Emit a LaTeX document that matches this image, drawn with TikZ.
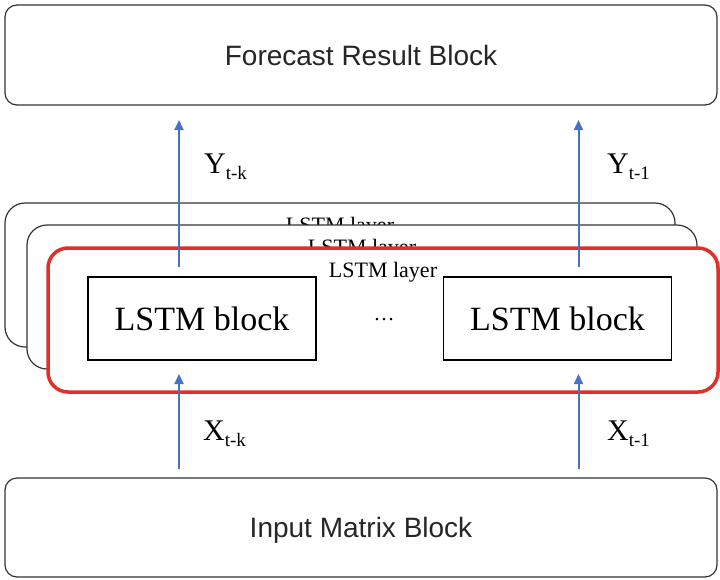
\documentclass[tikz,border=0pt]{standalone}
\usepackage{fontspec}
\setmainfont{Liberation Serif}
\setsansfont{Liberation Sans}
\usetikzlibrary{arrows.meta}
\definecolor{arrowblue}{HTML}{4472C4}
\definecolor{layerred}{HTML}{E0302A}
\definecolor{edgegray}{HTML}{333333}
\begin{document}
\begin{tikzpicture}[x=1pt,y=-1pt,
  outerbox/.style={draw=edgegray, line width=1.2pt, rounded corners=12pt, fill=white,
    inner sep=0pt, outer sep=0pt, text height=20pt, text depth=0pt,
    font=\sffamily\fontsize{28}{28}\selectfont, text=black!85},
  layerbox/.style={draw=edgegray, line width=1.2pt, rounded corners=20pt, fill=white,
    inner sep=0pt, outer sep=0pt, minimum width=670pt, minimum height=144pt},
  frontlayer/.style={layerbox, draw=layerred, line width=3.5pt},
  layerlabel/.style={anchor=base, inner sep=0pt, font=\fontsize{22}{22}\selectfont},
  lstmbox/.style={draw=black, line width=1.2pt, fill=white, minimum width=228pt,
    minimum height=83pt, inner sep=0pt, font=\fontsize{34}{34}\selectfont},
  flow/.style={draw=arrowblue, line width=2pt, -{Triangle[length=10pt,width=9pt]}},
  varlabel/.style={anchor=base west, inner sep=0pt, font=\fontsize{30}{30}\selectfont},
]
\useasboundingbox (0,0) rectangle (720,579);

% outer blocks
\node[outerbox, minimum width=712pt, minimum height=100pt] (forecast) at (361,55) {Forecast Result Block};
\node[outerbox, minimum width=712pt, minimum height=99pt] (input) at (361,527.5) {Input Matrix Block};

% stacked LSTM layers
\node[layerbox] (layerA) at (340,275) {};
\node[layerlabel] (labelA) at ([shift={(335,29)}]layerA.north west) {LSTM layer};
\node[layerbox] (layerB) at (362,297) {};
\node[layerlabel] (labelB) at ([shift={(335,29)}]layerB.north west) {LSTM layer};
\node[frontlayer] (layerC) at (383,320) {};
\node[layerlabel] (labelC) at ([shift={(335,29)}]layerC.north west) {LSTM layer};

% LSTM blocks
\node[lstmbox] (blockL) at (202,318.5) {LSTM block};
\node[lstmbox] (blockR) at (557.5,318.5) {LSTM block};
\node[inner sep=0pt, text height=3pt, text depth=0pt] (dots) at (384,319) {\fontsize{21}{21}\selectfont …};

% arrow ends
\coordinate (ykS) at (179,267);
\coordinate (ykE) at (179,120);
\coordinate (y1S) at (578.5,267);
\coordinate (y1E) at (578.5,120);
\coordinate (xkS) at (179,469);
\coordinate (xkE) at (179,374);
\coordinate (x1S) at (578.5,469);
\coordinate (x1E) at (578.5,374);

\draw[flow] (ykS) -- (ykE);
\draw[flow] (y1S) -- (y1E);
\draw[flow] (xkS) -- (xkE);
\draw[flow] (x1S) -- (x1E);

% labels
\node[varlabel] (ylabk) at (204,173) {Y\raisebox{-6.5pt}{\fontsize{19}{19}\selectfont t-k}};
\node[varlabel] (ylab1) at (607,173) {Y\raisebox{-6.5pt}{\fontsize{19}{19}\selectfont t-1}};
\node[varlabel] (xlabk) at (203,440) {X\raisebox{-6.5pt}{\fontsize{19}{19}\selectfont t-k}};
\node[varlabel] (xlab1) at (607,440) {X\raisebox{-6.5pt}{\fontsize{19}{19}\selectfont t-1}};
\end{tikzpicture}
\end{document}
